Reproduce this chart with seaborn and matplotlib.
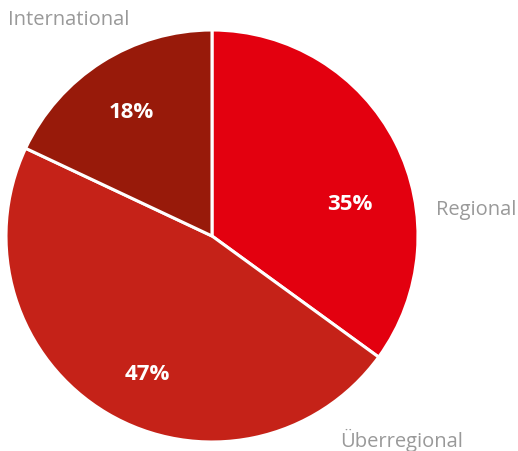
import matplotlib
matplotlib.use("Agg")
import matplotlib.pyplot as plt
import seaborn as sns

sns.set_theme(style="white")
plt.rcParams['font.family'] = ['Open Sans', 'DejaVu Sans']

# Data
categories = ['Regional', 'Überregional', 'International']
shares = [35, 47, 18]
colors = ['#E3000F', '#C52218', '#981A0A']

fig = plt.figure(figsize=(5.18, 4.51), dpi=100)
ax = fig.add_axes([0, 0, 1, 1])

# y axis runs downward, so start at -90 (top) and go "counterclockwise" = clockwise on screen
wedges, texts = ax.pie(
    shares, colors=colors, startangle=-90, counterclock=True,
    center=(212, 236), radius=206, frame=True,
    wedgeprops=dict(edgecolor='white', linewidth=2.2),
)
ax.set_xlim(0, 518)
ax.set_ylim(451, 0)
ax.set_aspect('equal')
ax.axis('off')

# percentage labels (pixel positions)
pct_pos = [(350, 204), (147, 375), (131, 113)]
for (x, y), v in zip(pct_pos, shares):
    ax.text(x, y, f"{v}%", color='white', fontsize=16, fontweight='bold',
            ha='center', va='center')

# category labels
lab_pos = [(436, 210), (340, 440), (8, 20)]
for (x, y), name in zip(lab_pos, categories):
    ax.text(x, y, name, color='#999999', fontsize=14.5, ha='left', va='center')

plt.savefig("out.png", dpi=100)
